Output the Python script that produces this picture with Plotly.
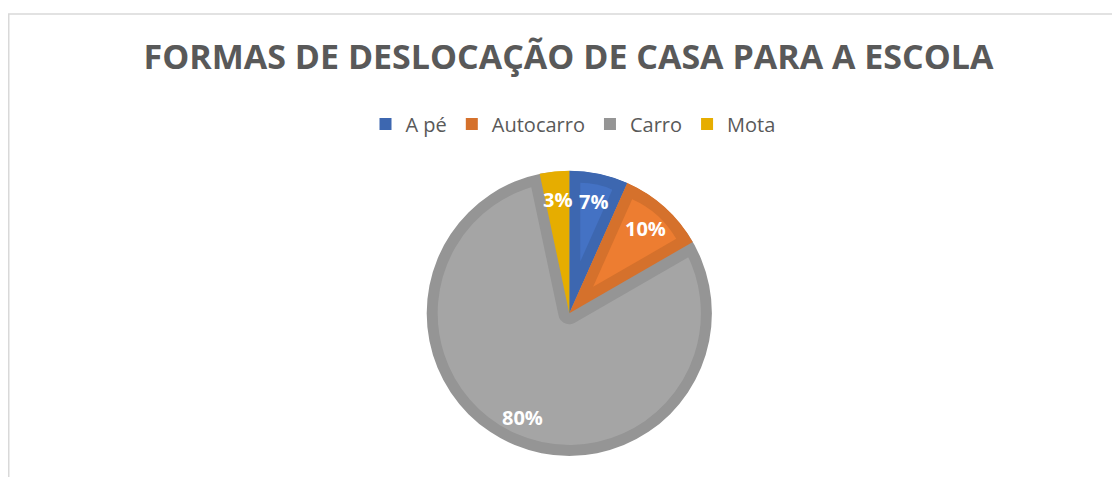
import math
import plotly.graph_objects as go

# ---- data ----
labels = ["A pé", "Autocarro", "Carro", "Mota"]
values = [2, 3, 24, 1]
fill_colors = ["#4472C4", "#ED7D31", "#A5A5A5", "#FFC000"]
band_colors = ["#3D67B0", "#D5712C", "#959595", "#E6AD00"]
title_text = "FORMAS DE DESLOCAÇÃO DE CASA PARA A ESCOLA"

# ---- geometry / style ----
W, H = 1120, 477
OFF = 8                 # page body margin
CX, CY = 569.3 - OFF, 313.3 - OFF   # pie centre (px, figure coords)
R = 142.6               # pie radius (px)
BAND = 11               # inner border band (px)
TRANSP = "rgba(0,0,0,0)"
LABEL_R = 0.8

total = sum(values)
fracs = [v / total for v in values]


def domain(half):
    return dict(x=[(CX - half) / W, (CX + half) / W],
                y=[1 - (CY + half) / H, 1 - (CY - half) / H])


common = dict(labels=labels, values=values, sort=False, direction="clockwise",
              rotation=0, textinfo="none", hoverinfo="label+percent")

fig = go.Figure()

# 1) full pie in the darker border colours (also drives the legend)
fig.add_trace(go.Pie(**common, domain=domain(R),
                     marker=dict(colors=band_colors, line=dict(width=0)),
                     showlegend=True))

# 2) the large (reflex) slice: light fill with a thick border band
big = values.index(max(values))
cols = [TRANSP] * len(values); cols[big] = fill_colors[big]
lcols = [TRANSP] * len(values); lcols[big] = band_colors[big]
lws = [0] * len(values); lws[big] = 2 * BAND
fig.add_trace(go.Pie(**common, domain=domain(R),
                     marker=dict(colors=cols, line=dict(color=lcols, width=lws)),
                     showlegend=False))

# 3) white ring masking the border overflow outside the pie
fig.add_trace(go.Pie(labels=[" "], values=[1], hole=R / (R + BAND + 2),
                     domain=domain(R + BAND + 2), textinfo="none", hoverinfo="skip",
                     marker=dict(colors=["white"], line=dict(width=0)),
                     showlegend=False, sort=False))

# 4) small slices in dark colours again (cover the band overflow)
cols = [band_colors[i] if i != big else TRANSP for i in range(len(values))]
fig.add_trace(go.Pie(**common, domain=domain(R),
                     marker=dict(colors=cols, line=dict(width=0)),
                     showlegend=False))

# 5) inset light wedges for the small slices (pulled, smaller slices)
for i in range(len(values)):
    if i == big:
        continue
    half = math.pi * fracs[i]
    shift = BAND / math.sin(half)
    r_in = R - BAND - shift
    if r_in <= 0:
        continue
    pull = shift / r_in
    if pull > 1:
        continue
    cols = [TRANSP] * len(values); cols[i] = fill_colors[i]
    pulls = [0] * len(values); pulls[i] = pull
    fig.add_trace(go.Pie(**common, domain=domain(R - BAND), pull=pulls,
                         marker=dict(colors=cols, line=dict(width=0)),
                         showlegend=False))

# percentage labels
annotations = []
cum = 0.0
for f in fracs:
    mid = 2 * math.pi * (cum + f / 2)
    cum += f
    px = CX + LABEL_R * R * math.sin(mid)
    py = CY - LABEL_R * R * math.cos(mid)
    annotations.append(dict(x=px / W, y=1 - py / H, xref="paper", yref="paper",
                            text=f"{round(f * 100)}%", showarrow=False,
                            xanchor="center", yanchor="middle",
                            font=dict(family="Open Sans", size=20, color="white",
                                      weight="bold")))

fig.update_layout(
    width=W, height=H,
    margin=dict(l=0, r=0, t=0, b=0),
    paper_bgcolor="white", plot_bgcolor="white",
    title=dict(text=title_text, x=(568.5 - OFF) / W, xanchor="center",
               y=1 - (57 - OFF) / H, yanchor="middle", yref="paper",
               font=dict(family="Open Sans", size=34, color="#595959", weight="bold")),
    legend=dict(orientation="h", x=(573 - OFF) / W, xanchor="center",
                y=1 - (124 - OFF) / H, yanchor="middle",
                font=dict(family="Open Sans", size=20, color="#595959"),
                traceorder="normal"),
    annotations=annotations,
    shapes=[dict(type="rect", xref="paper", yref="paper",
                 x0=0.75 / W, x1=1.02, y0=-0.05, y1=1 - (14 - OFF) / H,
                 line=dict(color="#D9D9D9", width=1.5), fillcolor=TRANSP, layer="below")],
)

fig.write_html("out.html")
